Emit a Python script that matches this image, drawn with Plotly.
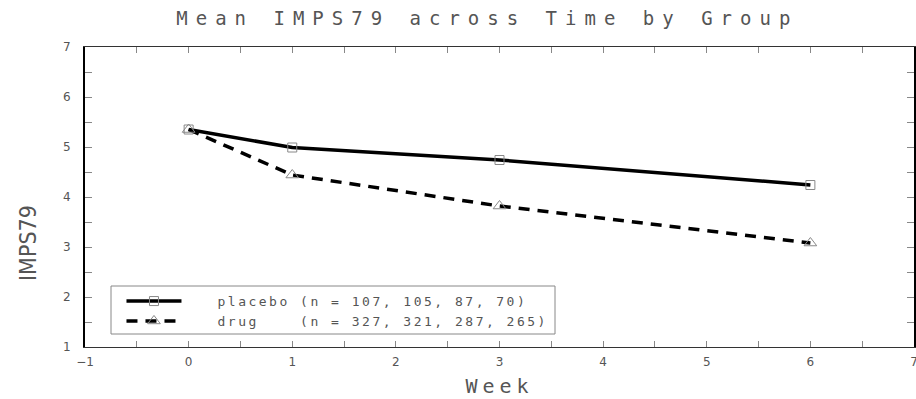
import plotly.graph_objects as go

weeks = [0, 1, 3, 6]
placebo = [5.35, 4.99, 4.74, 4.24]
drug = [5.35, 4.44, 3.82, 3.08]
names = ["placebo (n = 107, 105, 87, 70)", "drug    (n = 327, 321, 287, 265)"]
title_text = "Mean IMPS79 across Time by Group"
x_title = "Week"
y_title = "IMPS79"
x_tickvals = [-1, -0.5, 0, 0.5, 1, 1.5, 2, 2.5, 3, 3.5, 4, 4.5, 5, 5.5, 6, 6.5, 7]
x_ticktext = ["\u22121", "", "0", "", "1", "", "2", "", "3", "", "4", "", "5", "", "6", "", "7"]
y_tickvals = [1, 1.5, 2, 2.5, 3, 3.5, 4, 4.5, 5, 5.5, 6, 6.5, 7]
y_ticktext = ["1", "", "2", "", "3", "", "4", "", "5", "", "6", "", "7"]

MONO = "DejaVu Sans Mono"
SANS = "DejaVu Sans"
TXT = "#555555"

fig = go.Figure()
fig.add_trace(go.Scatter(
    x=weeks, y=placebo, name=names[0], mode="lines+markers",
    line=dict(color="black", width=3.5),
    marker=dict(symbol="square-open", size=9, color="#888888", line=dict(width=1, color="#888888")),
))
fig.add_trace(go.Scatter(
    x=weeks, y=drug, name=names[1], mode="lines+markers",
    line=dict(color="black", width=3.5, dash="11px,8px"),
    marker=dict(symbol="triangle-up-open", size=11, color="#888888", line=dict(width=1, color="#888888")),
))

fig.update_layout(
    width=916, height=399,
    margin=dict(l=85, r=2, t=47, b=52, autoexpand=False),
    paper_bgcolor="white", plot_bgcolor="white",
    title=dict(text=title_text, x=0.532, xanchor="center", y=1 - 18 / 399, yref="container",
               yanchor="middle", font=dict(family=MONO, size=19, color=TXT)),
    showlegend=True,
    legend=dict(x=0.044, y=0.203, xanchor="left", yanchor="top", bgcolor="rgba(0,0,0,0)",
                borderwidth=0, font=dict(family=MONO, size=13, color=TXT),
                itemwidth=55, tracegroupgap=0),
    shapes=[dict(type="rect", xref="paper", yref="paper",
                 x0=(111 - 85) / 829, x1=(555 - 85) / 829,
                 y0=(347 - 334) / 300, y1=(347 - 286) / 300,
                 line=dict(color="#888888", width=1), fillcolor="rgba(0,0,0,0)")],
    annotations=[dict(text=y_title, xref="paper", yref="paper",
                      x=(28 - 85) / 829, y=(347 - 243) / 300, xanchor="center", yanchor="middle",
                      textangle=-90, showarrow=False,
                      font=dict(family="DejaVu Sans Condensed, Liberation Sans Narrow, DejaVu Sans",
                                size=23, color=TXT))],
)

fig.update_xaxes(
    range=[-1, 7], tickvals=x_tickvals, ticktext=x_ticktext,
    ticks="inside", ticklen=6, tickcolor="#888888", tickwidth=1,
    showline=True, linecolor="#333333", linewidth=1, mirror="allticks",
    showgrid=False, zeroline=False, automargin=False, ticklabeloverflow="allow",
    tickfont=dict(family=SANS, size=12, color=TXT), ticklabelstandoff=4,
    title=dict(text=x_title, standoff=10, font=dict(family=MONO, size=20, color=TXT)),
)
fig.update_yaxes(
    range=[1, 7], tickvals=y_tickvals, ticktext=y_ticktext,
    ticks="inside", ticklen=7, tickcolor="#888888", tickwidth=1,
    showline=True, linecolor="black", linewidth=2, mirror="allticks",
    showgrid=False, zeroline=False, automargin=False, ticklabeloverflow="allow",
    tickfont=dict(family=SANS, size=12, color=TXT), ticklabelstandoff=10,
)

post = """
document.body.style.margin = '0';
document.body.style.overflow = 'hidden';
var gd = document.getElementById('{plot_id}');
function ls(sel, v) { gd.querySelectorAll(sel).forEach(function(e) { e.style.letterSpacing = v; }); }
ls('.gtitle', '8px');
ls('.g-xtitle text', '5px');
ls('.legendtext', '2.5px');
gd.querySelectorAll('.legend [clip-path]').forEach(function(e) { e.removeAttribute('clip-path'); });
gd.querySelectorAll('.legendtext').forEach(function(e) {
  var x = parseFloat(e.getAttribute('x') || '0');
  e.setAttribute('x', x + 31);
});
"""
fig.write_html("out.html", post_script=post, config={"displayModeBar": False})
